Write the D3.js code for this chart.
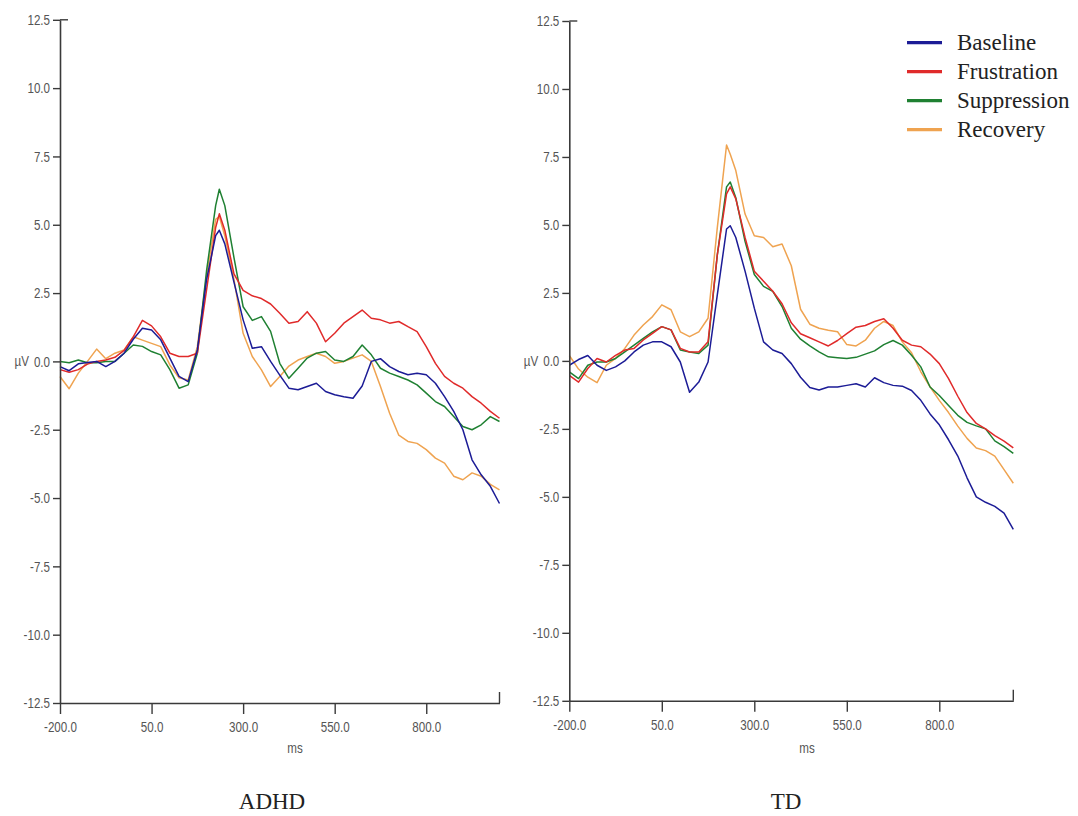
<!DOCTYPE html>
<html><head><meta charset="utf-8">
<script src="https://cdn.jsdelivr.net/npm/d3@7"></script>
<style>
html,body{margin:0;padding:0;background:#fff;}
svg{display:block;}
.tick text,.axlab{font-family:"Liberation Sans Narrow","Arial Narrow","Liberation Sans",Arial,sans-serif;font-size:14.5px;fill:#555;}
.ttl,.leg{font-family:"Liberation Serif","Times New Roman",serif;font-size:23px;fill:#222;}
</style></head><body>
<svg id="chart" width="1078" height="816"></svg>
<script>
const times = [-200,-175,-150,-125,-100,-75,-50,-25,0,25,50,75,100,125,150,175,200,225,235,250,275,300,325,350,375,400,425,450,475,500,525,550,575,600,625,650,675,700,725,750,775,800,825,850,875,900,925,950,975,1000];

const conditions = ["Baseline","Frustration","Suppression","Recovery"];
const groups = ["ADHD","TD"];
const xTickValues = [-200,50,300,550,800];
const yTickValues = [-12.5,-10,-7.5,-5,-2.5,0,2.5,5,7.5,10,12.5];

const adhdBaseline = [-0.19,-0.34,-0.09,-0.04,0,-0.19,0,0.3,0.81,1.21,1.15,0.79,0.12,-0.55,-0.74,0.42,2.98,4.6,4.8,4.3,2.9,1.52,0.48,0.54,0.0,-0.5,-0.98,-1.04,-0.92,-0.8,-1.1,-1.22,-1.29,-1.35,-0.9,0.0,0.1,-0.19,-0.37,-0.49,-0.43,-0.49,-0.8,-1.29,-1.83,-2.5,-3.6,-4.15,-4.57,-5.2];
const adhdFrustration = [-0.3,-0.4,-0.3,-0.1,0,0.05,0.15,0.4,0.9,1.5,1.3,0.9,0.3,0.18,0.18,0.3,2.6,4.9,5.4,4.8,3.2,2.6,2.4,2.3,2.1,1.76,1.4,1.46,1.82,1.4,0.72,1.03,1.4,1.64,1.88,1.58,1.52,1.4,1.46,1.27,1.09,0.54,-0.07,-0.55,-0.8,-0.98,-1.29,-1.53,-1.83,-2.08];
const adhdSuppression = [0,-0.05,0.05,-0.05,-0.05,0,0,0.3,0.6,0.55,0.36,0.24,-0.3,-0.98,-0.86,0.3,3.3,5.7,6.3,5.7,3.8,2.0,1.5,1.64,1.1,-0.07,-0.62,-0.25,0.12,0.3,0.36,0.05,0,0.18,0.6,0.24,-0.25,-0.43,-0.55,-0.68,-0.86,-1.16,-1.47,-1.65,-2.02,-2.38,-2.5,-2.32,-2.02,-2.2];
const adhdRecovery = [-0.55,-1.0,-0.43,0,0.45,0.1,0.3,0.42,0.9,0.78,0.66,0.54,-0.13,-0.6,-0.68,0.54,3.1,5.2,5.3,4.6,3.0,1.03,0.18,-0.31,-0.92,-0.55,-0.17,0.05,0.18,0.3,0.18,-0.07,0,0.12,0.24,0,-0.92,-1.9,-2.7,-2.93,-3.0,-3.23,-3.54,-3.72,-4.2,-4.33,-4.08,-4.2,-4.5,-4.7];

const tdBaseline = [-0.16,0.05,0.2,-0.16,-0.35,-0.22,0,0.33,0.58,0.7,0.7,0.52,-0.04,-1.15,-0.78,-0.04,2.43,4.85,4.97,4.54,3.3,1.94,0.7,0.4,0.27,-0.1,-0.6,-0.98,-1.07,-0.96,-0.96,-0.9,-0.84,-0.96,-0.62,-0.8,-0.9,-0.93,-1.09,-1.45,-1.95,-2.35,-2.9,-3.5,-4.3,-5.0,-5.2,-5.35,-5.6,-6.2];
const tdFrustration = [-0.53,-0.78,-0.28,0.09,-0.04,0.2,0.4,0.46,0.77,1.01,1.26,1.14,0.46,0.33,0.33,0.7,3.9,6.14,6.4,5.96,4.54,3.3,2.93,2.56,2.1,1.4,1.0,0.85,0.7,0.55,0.75,1.0,1.24,1.3,1.45,1.55,1.2,0.76,0.58,0.52,0.25,-0.1,-0.65,-1.3,-1.9,-2.3,-2.5,-2.75,-2.95,-3.2];
const tdSuppression = [-0.4,-0.65,-0.16,-0.04,-0.04,0.09,0.33,0.58,0.83,1.07,1.26,1.14,0.4,0.33,0.27,0.58,3.9,6.4,6.58,6.0,4.4,3.18,2.74,2.56,2.0,1.2,0.8,0.55,0.33,0.15,0.12,0.09,0.13,0.25,0.37,0.6,0.75,0.58,0.21,-0.22,-0.96,-1.27,-1.64,-2.0,-2.26,-2.39,-2.5,-2.94,-3.15,-3.4];
const tdRecovery = [0.2,-0.3,-0.6,-0.8,-0.16,0.09,0.46,0.95,1.32,1.63,2.06,1.88,1.07,0.89,1.07,1.57,4.9,7.94,7.6,7.0,5.4,4.6,4.54,4.2,4.3,3.5,1.9,1.35,1.2,1.13,1.07,0.6,0.55,0.76,1.2,1.45,1.3,0.7,0.3,-0.4,-0.95,-1.45,-1.9,-2.4,-2.85,-3.2,-3.3,-3.5,-4.0,-4.5];

const colors = {Baseline:"#1c1c96", Frustration:"#e02a2a", Suppression:"#1f8032", Recovery:"#efa350"};

const panels = [
  {name:groups[0], series:{Baseline:adhdBaseline, Frustration:adhdFrustration, Suppression:adhdSuppression, Recovery:adhdRecovery},
   x0:60, x1:499.5, yTop:19.8, yBot:703, titleX:272, msX:295},
  {name:groups[1], series:{Baseline:tdBaseline, Frustration:tdFrustration, Suppression:tdSuppression, Recovery:tdRecovery},
   x0:569.3, x1:1013.3, yTop:21, yBot:700.8, titleX:786, msX:807}
];

const svg = d3.select("#chart");
const fmt = d => d.toFixed(1);
const axisColor = "#3a3a3a";
const sx = 0.8; // horizontal squeeze for the narrow tick font

panels.forEach(p => {
  const x = d3.scaleLinear().domain([-200,1000]).range([p.x0,p.x1]);
  const y = d3.scaleLinear().domain([-12.5,12.5]).range([p.yBot,p.yTop]);
  const g = svg.append("g");

  const line = d3.line().x((d,i)=>x(times[i])).y(d=>y(d));
  ["Recovery","Suppression","Frustration","Baseline"].forEach(c => {
    g.append("path").datum(p.series[c])
      .attr("d", line).attr("fill","none")
      .attr("stroke", colors[c]).attr("stroke-width",1.5)
      .attr("stroke-linejoin","round");
  });

  const ya = g.append("g").attr("transform",`translate(${p.x0},0)`)
    .call(d3.axisLeft(y).tickValues(yTickValues).tickFormat(fmt).tickSize(7).tickPadding(3).tickSizeOuter(0));
  ya.selectAll(".tick text").attr("x", -10/sx).attr("transform",`scale(${sx},1)`);
  const xa = g.append("g").attr("transform",`translate(0,${p.yBot})`)
    .call(d3.axisBottom(x).tickValues(xTickValues).tickFormat(fmt).tickSize(11).tickPadding(8).tickSizeOuter(0));
  xa.selectAll(".tick text").attr("transform",`scale(${sx},1)`);
  [ya,xa].forEach(a => {
    a.select(".domain").attr("stroke",axisColor).attr("stroke-width",1.6);
    a.selectAll(".tick line").attr("stroke",axisColor).attr("stroke-width",1.4);
  });

  g.append("line").attr("x1",p.x0).attr("x2",p.x0+8).attr("y1",y(12.5)).attr("y2",y(12.5))
    .attr("stroke",axisColor).attr("stroke-width",1.4);
  g.append("line").attr("x1",x(1000)).attr("x2",x(1000)).attr("y1",p.yBot).attr("y2",p.yBot-11)
    .attr("stroke",axisColor).attr("stroke-width",1.4);

  g.append("text").attr("class","axlab")
    .attr("transform",`translate(${p.x0-31},${y(0)}) scale(${sx},1)`).attr("dy","0.35em")
    .attr("text-anchor","end").text("µV");
  g.append("text").attr("class","axlab")
    .attr("transform",`translate(${p.msX},753) scale(${sx},1)`)
    .attr("text-anchor","middle").text("ms");

  g.append("text").attr("class","ttl").attr("x",p.titleX).attr("y",809)
    .attr("text-anchor","middle").text(p.name);
});

const leg = svg.append("g");
conditions.forEach((c,i) => {
  const yy = 42.7 + i*29;
  leg.append("line").attr("x1",907).attr("x2",942).attr("y1",yy).attr("y2",yy)
    .attr("stroke",colors[c]).attr("stroke-width",3.2);
  leg.append("text").attr("class","leg").attr("x",957).attr("y",yy).attr("dy","0.33em").text(c);
});
</script>
</body></html>
